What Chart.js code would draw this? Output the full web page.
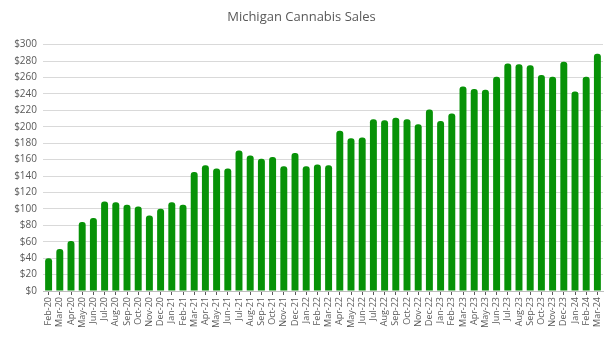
<!DOCTYPE html>
<html>
<head>
<meta charset="utf-8">
<script src="https://cdn.jsdelivr.net/npm/chart.js@4"></script>
<style>
  body { margin: 0; background: #fff; }
  #wrap { width: 613px; height: 340px; }
</style>
</head>
<body>
<div id="wrap"><canvas id="salesChart" width="613" height="340"></canvas></div>
<script>
const months = [
  "Feb-20", "Mar-20", "Apr-20", "May-20", "Jun-20", "Jul-20", "Aug-20", "Sep-20", "Oct-20", "Nov-20", "Dec-20",
  "Jan-21", "Feb-21", "Mar-21", "Apr-21", "May-21", "Jun-21", "Jul-21", "Aug-21", "Sep-21", "Oct-21", "Nov-21", "Dec-21",
  "Jan-22", "Feb-22", "Mar-22", "Apr-22", "May-22", "Jun-22", "Jul-22", "Aug-22", "Sep-22", "Oct-22", "Nov-22", "Dec-22",
  "Jan-23", "Feb-23", "Mar-23", "Apr-23", "May-23", "Jun-23", "Jul-23", "Aug-23", "Sep-23", "Oct-23", "Nov-23", "Dec-23",
  "Jan-24", "Feb-24", "Mar-24"
];

// monthly sales, $ millions
const sales = [
  40, 51, 61, 84, 89, 109, 108, 105, 103, 92, 100,
  108, 105, 145, 153, 149, 149, 171, 165, 161, 163, 152, 168,
  152, 154, 153, 195, 186, 187, 209, 208, 211, 209, 203, 221,
  207, 216, 249, 246, 245, 261, 277, 276, 275, 263, 261, 279,
  243, 261, 289
];

const yTicks = { min: 0, max: 300, step: 20 };

const fontFamily = "'Open Sans', 'Noto Sans', sans-serif";

const config = {
  type: "bar",
  data: {
    labels: months,
    datasets: [
      {
        label: "Sales",
        data: sales,
        backgroundColor: "#079207",
        borderRadius: { topLeft: 3, topRight: 3 },
        borderSkipped: "bottom",
        categoryPercentage: 1.0,
        barPercentage: 0.62,
      },
    ],
  },
  options: {
    responsive: false,
    animation: false,
    layout: { padding: { top: 0, right: 10, bottom: 0, left: 0 } },
    plugins: {
      legend: { display: false },
      tooltip: { enabled: false },
      title: {
        display: true,
        text: "Michigan Cannabis Sales",
        color: "#595959",
        font: { family: fontFamily, size: 13, weight: "normal" },
        padding: { top: 9, bottom: 20 },
      },
    },
    scales: {
      x: {
        grid: {
          display: true,
          drawOnChartArea: false,
          offset: false,
          tickLength: 4,
          color: "#595959",
        },
        border: { display: true, color: "#bfbfbf" },
        ticks: {
          autoSkip: false,
          maxRotation: 90,
          minRotation: 90,
          padding: 2,
          color: "#595959",
          font: { family: fontFamily, size: 9 },
        },
        afterFit: (scale) => {
          scale.height = 49;
        },
      },
      y: {
        min: yTicks.min,
        max: yTicks.max,
        grid: { color: "#d9d9d9", drawTicks: false },
        border: { display: false },
        ticks: {
          stepSize: yTicks.step,
          padding: 6,
          color: "#595959",
          font: { family: fontFamily, size: 10 },
          callback: (v) => "$" + v,
        },
        afterFit: (scale) => {
          scale.width = 43;
        },
      },
    },
  },
};

new Chart(document.getElementById("salesChart"), config);
</script>
</body>
</html>
